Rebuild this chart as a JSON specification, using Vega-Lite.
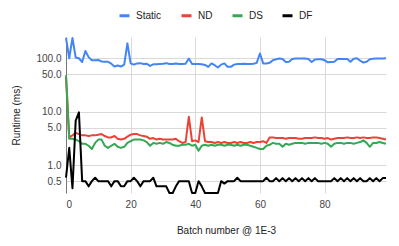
{
"$schema": "https://vega.github.io/schema/vega-lite/v6.json",
"width": 320, "height": 156,
"autosize": {"type": "none"},
"padding": {"left": 66, "top": 37, "right": 13, "bottom": 53},
"background": "white",
"config": {"view": {"stroke": null}, "font": "Liberation Sans"},
"data": {"values": [
{"b":0,"Static":240,"ND":45,"DS":48,"DF":0.58},
{"b":1,"Static":100,"ND":3.3,"DS":3.1,"DF":2.1},
{"b":2,"Static":240,"ND":3.6,"DS":3.1,"DF":0.37},
{"b":3,"Static":103,"ND":4.0,"DS":3.0,"DF":6.8},
{"b":4,"Static":100,"ND":3.8,"DS":2.8,"DF":9.7},
{"b":5,"Static":85,"ND":3.6,"DS":2.5,"DF":0.5},
{"b":6,"Static":137,"ND":3.6,"DS":2.5,"DF":0.5},
{"b":7,"Static":105,"ND":3.5,"DS":2.3,"DF":0.4},
{"b":8,"Static":92,"ND":3.6,"DS":2.0,"DF":0.5},
{"b":9,"Static":92,"ND":3.6,"DS":2.6,"DF":0.58},
{"b":10,"Static":93,"ND":3.7,"DS":3.0,"DF":0.5},
{"b":11,"Static":87,"ND":3.8,"DS":3.0,"DF":0.5},
{"b":12,"Static":86,"ND":3.5,"DS":2.3,"DF":0.5},
{"b":13,"Static":86,"ND":3.3,"DS":2.1,"DF":0.5},
{"b":14,"Static":79,"ND":3.3,"DS":2.3,"DF":0.4},
{"b":15,"Static":70,"ND":3.5,"DS":2.5,"DF":0.5},
{"b":16,"Static":73,"ND":3.1,"DS":2.2,"DF":0.5},
{"b":17,"Static":70,"ND":3.0,"DS":2.1,"DF":0.4},
{"b":18,"Static":76,"ND":3.1,"DS":2.2,"DF":0.4},
{"b":19,"Static":190,"ND":3.4,"DS":2.6,"DF":0.5},
{"b":20,"Static":80,"ND":3.7,"DS":2.8,"DF":0.5},
{"b":21,"Static":76,"ND":3.8,"DS":3.0,"DF":0.58},
{"b":22,"Static":80,"ND":3.8,"DS":3.0,"DF":0.5},
{"b":23,"Static":81,"ND":3.6,"DS":3.0,"DF":0.4},
{"b":24,"Static":78,"ND":3.5,"DS":2.9,"DF":0.5},
{"b":25,"Static":79,"ND":3.4,"DS":2.7,"DF":0.5},
{"b":26,"Static":72,"ND":3.1,"DS":2.3,"DF":0.5},
{"b":27,"Static":77,"ND":3.2,"DS":2.6,"DF":0.58},
{"b":28,"Static":77,"ND":3.0,"DS":2.5,"DF":0.4},
{"b":29,"Static":78,"ND":3.1,"DS":2.6,"DF":0.4},
{"b":30,"Static":79,"ND":3.0,"DS":2.5,"DF":0.4},
{"b":31,"Static":81,"ND":3.0,"DS":2.7,"DF":0.4},
{"b":32,"Static":78,"ND":3.0,"DS":2.6,"DF":0.3},
{"b":33,"Static":78,"ND":3.0,"DS":2.4,"DF":0.3},
{"b":34,"Static":80,"ND":3.1,"DS":2.3,"DF":0.4},
{"b":35,"Static":78,"ND":2.8,"DS":2.3,"DF":0.5},
{"b":36,"Static":78,"ND":2.6,"DS":2.4,"DF":0.5},
{"b":37,"Static":79,"ND":2.7,"DS":2.4,"DF":0.5},
{"b":38,"Static":99,"ND":8.0,"DS":2.5,"DF":0.5},
{"b":39,"Static":78,"ND":2.8,"DS":2.3,"DF":0.3},
{"b":40,"Static":78,"ND":2.9,"DS":2.4,"DF":0.3},
{"b":41,"Static":78,"ND":2.7,"DS":1.85,"DF":0.5},
{"b":42,"Static":77,"ND":7.8,"DS":2.3,"DF":0.4},
{"b":43,"Static":75,"ND":2.8,"DS":2.4,"DF":0.3},
{"b":44,"Static":69,"ND":2.7,"DS":2.3,"DF":0.3},
{"b":45,"Static":80,"ND":2.7,"DS":2.4,"DF":0.3},
{"b":46,"Static":74,"ND":2.6,"DS":2.3,"DF":0.3},
{"b":47,"Static":67,"ND":2.7,"DS":2.4,"DF":0.3},
{"b":48,"Static":76,"ND":2.6,"DS":2.4,"DF":0.5},
{"b":49,"Static":80,"ND":2.7,"DS":2.3,"DF":0.45},
{"b":50,"Static":69,"ND":2.6,"DS":2.4,"DF":0.5},
{"b":51,"Static":69,"ND":2.6,"DS":2.4,"DF":0.5},
{"b":52,"Static":76,"ND":2.7,"DS":2.3,"DF":0.5},
{"b":53,"Static":78,"ND":2.6,"DS":2.4,"DF":0.58},
{"b":54,"Static":78,"ND":2.7,"DS":2.3,"DF":0.5},
{"b":55,"Static":79,"ND":2.6,"DS":2.4,"DF":0.5},
{"b":56,"Static":78,"ND":2.6,"DS":2.4,"DF":0.5},
{"b":57,"Static":78,"ND":2.7,"DS":2.3,"DF":0.5},
{"b":58,"Static":79,"ND":2.6,"DS":2.2,"DF":0.5},
{"b":59,"Static":82,"ND":2.7,"DS":2.1,"DF":0.5},
{"b":60,"Static":123,"ND":2.7,"DS":2.0,"DF":0.5},
{"b":61,"Static":80,"ND":2.8,"DS":2.0,"DF":0.5},
{"b":62,"Static":80,"ND":2.6,"DS":2.3,"DF":0.58},
{"b":63,"Static":82,"ND":3.3,"DS":2.4,"DF":0.5},
{"b":64,"Static":92,"ND":3.3,"DS":2.6,"DF":0.5},
{"b":65,"Static":96,"ND":3.2,"DS":2.5,"DF":0.57},
{"b":66,"Static":99,"ND":3.2,"DS":2.5,"DF":0.5},
{"b":67,"Static":97,"ND":3.2,"DS":2.2,"DF":0.57},
{"b":68,"Static":85,"ND":3.1,"DS":2.5,"DF":0.5},
{"b":69,"Static":86,"ND":3.2,"DS":2.4,"DF":0.57},
{"b":70,"Static":97,"ND":3.2,"DS":2.5,"DF":0.5},
{"b":71,"Static":99,"ND":3.2,"DS":2.6,"DF":0.57},
{"b":72,"Static":99,"ND":3.1,"DS":2.6,"DF":0.5},
{"b":73,"Static":99,"ND":3.1,"DS":2.6,"DF":0.57},
{"b":74,"Static":99,"ND":3.2,"DS":2.5,"DF":0.5},
{"b":75,"Static":97,"ND":3.2,"DS":2.6,"DF":0.57},
{"b":76,"Static":85,"ND":3.2,"DS":2.6,"DF":0.5},
{"b":77,"Static":95,"ND":3.3,"DS":2.6,"DF":0.57},
{"b":78,"Static":96,"ND":3.2,"DS":2.6,"DF":0.5},
{"b":79,"Static":96,"ND":3.2,"DS":2.5,"DF":0.5},
{"b":80,"Static":92,"ND":3.1,"DS":2.6,"DF":0.5},
{"b":81,"Static":84,"ND":3.2,"DS":2.5,"DF":0.5},
{"b":82,"Static":85,"ND":3.0,"DS":2.2,"DF":0.5},
{"b":83,"Static":86,"ND":3.1,"DS":2.5,"DF":0.57},
{"b":84,"Static":97,"ND":3.2,"DS":2.6,"DF":0.5},
{"b":85,"Static":97,"ND":3.2,"DS":2.6,"DF":0.57},
{"b":86,"Static":97,"ND":3.2,"DS":2.5,"DF":0.5},
{"b":87,"Static":97,"ND":3.3,"DS":2.6,"DF":0.57},
{"b":88,"Static":86,"ND":3.2,"DS":2.6,"DF":0.5},
{"b":89,"Static":98,"ND":3.2,"DS":2.5,"DF":0.57},
{"b":90,"Static":100,"ND":3.3,"DS":2.6,"DF":0.5},
{"b":91,"Static":90,"ND":3.2,"DS":2.7,"DF":0.57},
{"b":92,"Static":83,"ND":3.3,"DS":2.9,"DF":0.5},
{"b":93,"Static":86,"ND":3.2,"DS":2.6,"DF":0.5},
{"b":94,"Static":96,"ND":3.2,"DS":2.2,"DF":0.57},
{"b":95,"Static":98,"ND":3.3,"DS":2.6,"DF":0.5},
{"b":96,"Static":99,"ND":3.3,"DS":2.6,"DF":0.57},
{"b":97,"Static":99,"ND":3.2,"DS":2.7,"DF":0.5},
{"b":98,"Static":99,"ND":3.1,"DS":2.6,"DF":0.57},
{"b":99,"Static":100,"ND":3.0,"DS":2.5,"DF":0.57}
]},
"transform": [{"fold": ["Static", "ND", "DS", "DF"], "as": ["series", "value"]}],
"mark": {"type": "line", "strokeWidth": 2, "strokeJoin": "round"},
"encoding": {
  "x": {"field": "b", "type": "quantitative",
        "scale": {"domain": [0, 99], "nice": false, "zero": false},
        "axis": {"values": [0, 20, 40, 60, 80], "title": "Batch number @ 1E-3", "domain": false, "ticks": false,
                 "grid": true, "gridColor": "#d9d9d9", "labelFontSize": 10, "labelColor": "#444", "labelPadding": 6,
                 "titleFontSize": 10, "titleFontWeight": "normal", "titleColor": "#222", "titlePadding": 16}},
  "y": {"field": "value", "type": "quantitative",
        "scale": {"type": "log", "domain": [0.3, 250], "nice": false},
        "axis": {"values": [0.5, 1, 5, 10, 50, 100], "format": ".1f", "title": "Runtime (ms)", "domain": true, "domainColor": "#777",
                 "ticks": false, "grid": true, "gridColor": "#d9d9d9", "labelFontSize": 10, "labelColor": "#444", "labelPadding": 5,
                 "titleFontSize": 10, "titleFontWeight": "normal", "titleColor": "#222", "titlePadding": 14}},
  "color": {"field": "series", "type": "nominal",
            "scale": {"domain": ["Static", "ND", "DS", "DF"], "range": ["#4285F4", "#EA4335", "#34A853", "#000000"]},
            "legend": {"orient": "none", "legendX": 52, "legendY": -28, "direction": "horizontal", "title": null,
                       "symbolType": "stroke", "symbolStrokeWidth": 3, "symbolSize": 100, "labelFontSize": 10,
                       "labelColor": "#222", "columnPadding": 13, "labelOffset": 5}}
}
}
